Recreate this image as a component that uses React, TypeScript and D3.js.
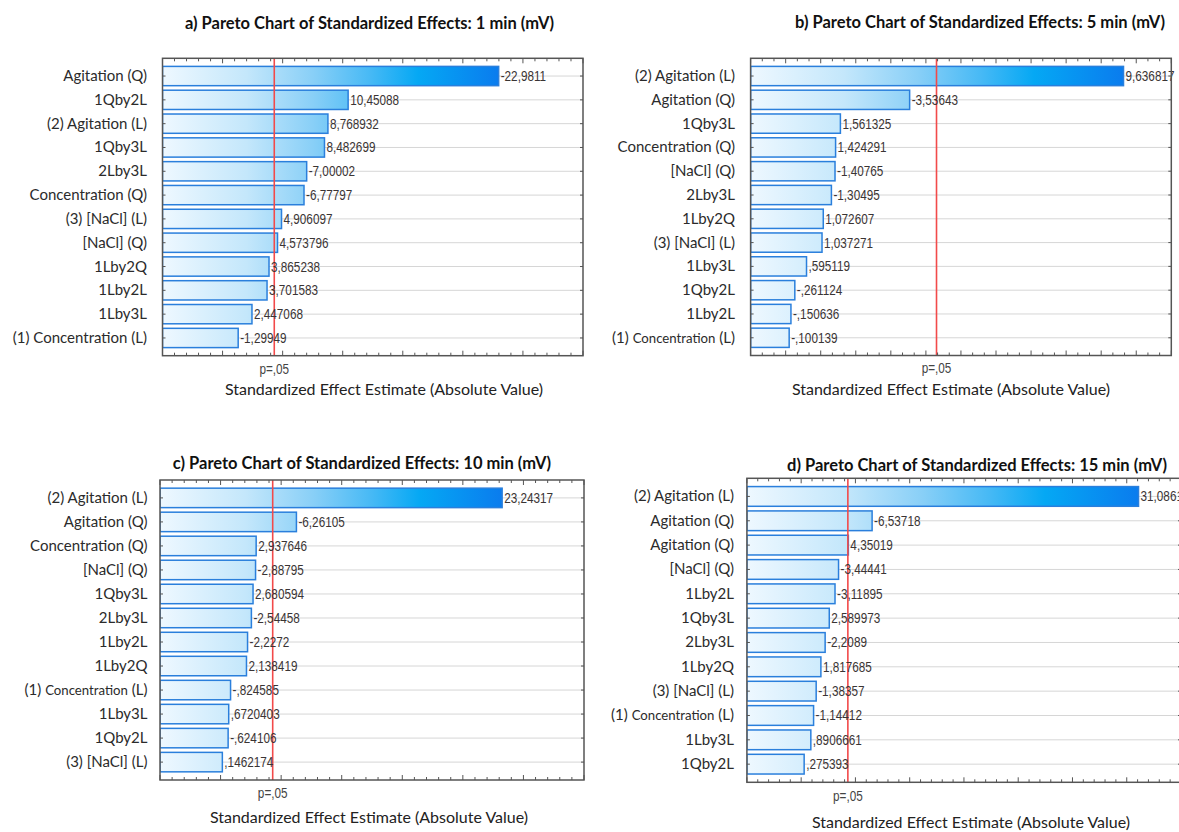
import React from 'react';
import * as d3 from 'd3';

// ---- data -------------------------------------------------------------
const titleA = 'a) Pareto Chart of Standardized Effects: 1 min (mV)';
const termsA = ['Agitation (Q)', '1Qby2L', '(2) Agitation (L)', '1Qby3L', '2Lby3L', 'Concentration (Q)', '(3) [NaCl] (L)', '[NaCl] (Q)', '1Lby2Q', '1Lby2L', '1Lby3L', '(1) Concentration (L)'];
const effectsA = [-22.9811, 10.45088, 8.768932, 8.482699, -7.00002, -6.77797, 4.906097, 4.573796, 3.865238, 3.701583, 2.447068, -1.29949];

const titleB = 'b) Pareto Chart of Standardized Effects: 5 min (mV)';
const termsB = ['(2) Agitation (L)', 'Agitation (Q)', '1Qby3L', 'Concentration (Q)', '[NaCl] (Q)', '2Lby3L', '1Lby2Q', '(3) [NaCl] (L)', '1Lby3L', '1Qby2L', '1Lby2L', '(1) Concentration (L)'];
const effectsB = [9.636817, -3.53643, 1.561325, 1.424291, -1.40765, -1.30495, 1.072607, 1.037271, 0.595119, -0.261124, -0.150636, -0.100139];

const titleC = 'c) Pareto Chart of Standardized Effects: 10 min (mV)';
const termsC = ['(2) Agitation (L)', 'Agitation (Q)', 'Concentration (Q)', '[NaCl] (Q)', '1Qby3L', '2Lby3L', '1Lby2L', '1Lby2Q', '(1) Concentration (L)', '1Lby3L', '1Qby2L', '(3) [NaCl] (L)'];
const effectsC = [23.24317, -6.26105, 2.937646, -2.88795, 2.680594, -2.54458, -2.2272, 2.138419, -0.824585, 0.6720403, -0.624106, 0.1462174];

const titleD = 'd) Pareto Chart of Standardized Effects: 15 min (mV)';
const termsD = ['(2) Agitation (L)', 'Agitation (Q)', 'Agitation (Q)', '[NaCl] (Q)', '1Lby2L', '1Qby3L', '2Lby3L', '1Lby2Q', '(3) [NaCl] (L)', '(1) Concentration (L)', '1Lby3L', '1Qby2L'];
const effectsD = [31.0861, -6.53718, 4.35019, -3.44441, -3.11895, 2.589973, -2.2089, 1.817685, -1.38357, -1.14412, 0.8906661, 0.275393];

// x-axis ranges and tick steps [min, max, minorStep, majorStep]
const axisA = [-5, 30, 1, 5];
const axisB = [-1, 11, 1 / 3, 1];
const axisC = [-5, 30, 1, 5];
const axisD = [-5, 35, 1, 5];

// two-sided t critical value, p = .05, df = 2
const criticalT = 4.303;
const criticalLabel = 'p=,05';
const xAxisTitle = 'Standardized Effect Estimate (Absolute Value)';

// ---- layout -----------------------------------------------------------
const W = 1179;
const H = 832;

type Layout = {
  left: number; right: number; top: number; bottom: number;
  labelX: number; titleX: number; titleY: number;
  pY: number; axisTitleX: number; axisTitleY: number; smallConc: boolean;
};

const layoutA: Layout = { left: 162.5, right: 583, top: 58.3, bottom: 355.7, labelX: 147, titleX: 369.5, titleY: 29, pY: 373.5, axisTitleX: 384, axisTitleY: 395, smallConc: false };
const layoutB: Layout = { left: 750.6, right: 1171.3, top: 58.3, bottom: 355.5, labelX: 735, titleX: 980, titleY: 28, pY: 372.5, axisTitleX: 951, axisTitleY: 395, smallConc: true };
const layoutC: Layout = { left: 160, right: 584, top: 480, bottom: 780, labelX: 147.5, titleX: 362, titleY: 469, pY: 797.5, axisTitleX: 369, axisTitleY: 823, smallConc: true };
const layoutD: Layout = { left: 746.9, right: 1181, top: 478.3, bottom: 782.3, labelX: 734, titleX: 977, titleY: 471, pY: 800.5, axisTitleX: 971, axisTitleY: 828, smallConc: true };

const LABEL_FONT = "Lato, 'Open Sans', sans-serif";
const NUM_FONT = "'Liberation Sans', Arial, sans-serif";
const NUM_SQUEEZE = 0.84;

// Statistica-style number: 7 significant digits, decimal comma, no leading zero
function fmtEffect(v: number): string {
  let s = v.toPrecision(7);
  if (s.includes('.')) s = s.replace(/0+$/, '').replace(/\.$/, '');
  s = s.replace(/^(-?)0\./, '$1.');
  return s.replace('.', ',');
}

function NarrowText(props: { x: number; y: number; anchor?: string; size: number; fill: string; children: React.ReactNode }) {
  const { x, y, anchor = 'start', size, fill, children } = props;
  return (
    <text
      transform={`translate(${x},${y}) scale(${NUM_SQUEEZE},1)`}
      textAnchor={anchor}
      fontFamily={NUM_FONT}
      fontSize={size}
      fill={fill}
    >
      {children}
    </text>
  );
}

function TermLabel({ term, x, y, smallConc }: { term: string; x: number; y: number; smallConc: boolean }) {
  if (smallConc && term.startsWith('(1) Concentration')) {
    return (
      <text x={x} y={y} textAnchor="end" fontFamily={LABEL_FONT} fontSize={15} fill="#2b2b2b">
        <tspan>(1) </tspan>
        <tspan fontSize={13.2}>Concentration</tspan>
        <tspan> (L)</tspan>
      </text>
    );
  }
  return (
    <text x={x} y={y} textAnchor="end" fontFamily={LABEL_FONT} fontSize={15} fill="#2b2b2b">
      {term}
    </text>
  );
}

function ParetoPanel(props: { id: string; title: string; terms: string[]; effects: number[]; axis: number[]; layout: Layout }) {
  const { id, title, terms, effects, axis, layout: L } = props;
  const [xMin, xMax, minorStep, majorStep] = axis;

  const x = d3.scaleLinear().domain([xMin, xMax]).range([L.left, L.right]);
  const y = d3
    .scaleBand<number>()
    .domain(d3.range(terms.length))
    .range([L.top, L.bottom])
    .paddingInner(0.19)
    .paddingOuter(0.34);

  const maxAbs = d3.max(effects, (e) => Math.abs(e)) ?? 1;
  const nMinor = Math.round((xMax - xMin) / minorStep);
  const ticks = d3.range(nMinor + 1).map((i) => xMin + i * minorStep);
  const isMajor = (t: number) => Math.abs(t / majorStep - Math.round(t / majorStep)) < 1e-6;

  const gradId = `barGrad-${id}`;
  const clipId = `clip-${id}`;
  const pX = x(criticalT);

  return (
    <g>
      <defs>
        <linearGradient id={gradId} gradientUnits="userSpaceOnUse" x1={x(xMin)} x2={x(maxAbs)} y1={0} y2={0}>
          <stop offset="0" stopColor="#eef8ff" />
          <stop offset="0.25" stopColor="#c4e7fb" />
          <stop offset="0.45" stopColor="#88cff7" />
          <stop offset="0.62" stopColor="#46b9f5" />
          <stop offset="0.76" stopColor="#05a8f4" />
          <stop offset="1" stopColor="#0a7cee" />
        </linearGradient>
        <clipPath id={clipId}>
          <rect x={L.left} y={L.top} width={L.right - L.left} height={L.bottom - L.top} />
        </clipPath>
      </defs>

      {/* title */}
      <text x={L.titleX} y={L.titleY} textAnchor="middle" fontFamily={LABEL_FONT} fontWeight="bold" fontSize={16.5} fill="#111">
        {title}
      </text>

      {/* plot background + grid */}
      <rect x={L.left} y={L.top} width={L.right - L.left} height={L.bottom - L.top} fill="#fff" />
      {terms.map((_, i) => (
        <line
          key={`g${i}`}
          x1={L.left}
          x2={L.right}
          y1={(y(i) ?? 0) + y.bandwidth() / 2}
          y2={(y(i) ?? 0) + y.bandwidth() / 2}
          stroke="#d6d6d6"
          strokeWidth={1}
        />
      ))}

      {/* bars */}
      <g clipPath={`url(#${clipId})`}>
        {effects.map((e, i) => (
          <rect
            key={`b${i}`}
            x={x(xMin)}
            y={y(i)}
            width={x(Math.abs(e)) - x(xMin)}
            height={y.bandwidth()}
            fill={`url(#${gradId})`}
            stroke="#2a7fdc"
            strokeWidth={1.5}
          />
        ))}
      </g>

      {/* critical value line */}
      <line x1={pX} x2={pX} y1={L.top} y2={L.bottom} stroke="#f24a4a" strokeWidth={1.6} />

      {/* value labels */}
      {effects.map((e, i) => (
        <NarrowText key={`v${i}`} x={x(Math.abs(e)) + 2} y={(y(i) ?? 0) + y.bandwidth() / 2 + 5} size={14} fill="#3a3434">
          {fmtEffect(e)}
        </NarrowText>
      ))}

      {/* frame */}
      <rect x={L.left} y={L.top} width={L.right - L.left} height={L.bottom - L.top} fill="none" stroke="#555" strokeWidth={1.5} />

      {/* x ticks (top and bottom, inward) */}
      {ticks.map((t, i) => {
        const len = isMajor(t) ? 5 : 3;
        return (
          <g key={`t${i}`} stroke="#555" strokeWidth={1}>
            <line x1={x(t)} x2={x(t)} y1={L.bottom} y2={L.bottom - len} />
            <line x1={x(t)} x2={x(t)} y1={L.top} y2={L.top + len} />
          </g>
        );
      })}

      {/* category ticks (left and right, inward) */}
      {terms.map((_, i) => {
        const cy = (y(i) ?? 0) + y.bandwidth() / 2;
        return (
          <g key={`c${i}`} stroke="#555" strokeWidth={1}>
            <line x1={L.left} x2={L.left + 3} y1={cy} y2={cy} />
            <line x1={L.right} x2={L.right - 3} y1={cy} y2={cy} />
          </g>
        );
      })}

      {/* category labels */}
      {terms.map((term, i) => (
        <TermLabel key={`l${i}`} term={term} x={L.labelX} y={(y(i) ?? 0) + y.bandwidth() / 2 + 5} smallConc={L.smallConc} />
      ))}

      {/* axis annotations */}
      <NarrowText x={pX} y={L.pY} anchor="middle" size={14} fill="#444">
        {criticalLabel}
      </NarrowText>
      <text x={L.axisTitleX} y={L.axisTitleY} textAnchor="middle" fontFamily={LABEL_FONT} fontSize={16} fill="#222">
        {xAxisTitle}
      </text>
    </g>
  );
}

export default function App() {
  return (
    <svg
      width={W}
      height={H}
      viewBox={`0 0 ${W} ${H}`}
      style={{ position: 'absolute', left: 0, top: 0, display: 'block', background: '#fff' }}
    >
      <rect x={0} y={0} width={W} height={H} fill="#fff" />
      <ParetoPanel id="a" title={titleA} terms={termsA} effects={effectsA} axis={axisA} layout={layoutA} />
      <ParetoPanel id="b" title={titleB} terms={termsB} effects={effectsB} axis={axisB} layout={layoutB} />
      <ParetoPanel id="c" title={titleC} terms={termsC} effects={effectsC} axis={axisC} layout={layoutC} />
      <ParetoPanel id="d" title={titleD} terms={termsD} effects={effectsD} axis={axisD} layout={layoutD} />
    </svg>
  );
}
